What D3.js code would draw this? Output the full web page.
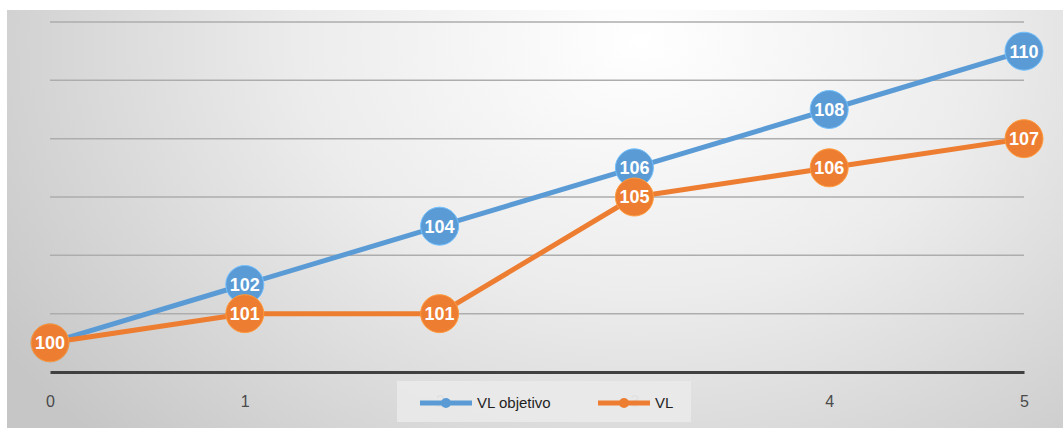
<!DOCTYPE html>
<html>
<head>
<meta charset="utf-8">
<script src="https://cdn.jsdelivr.net/npm/d3@7"></script>
<style>
  html, body { margin: 0; padding: 0; background: #ffffff; }
  svg { display: block; }
</style>
</head>
<body>
<svg id="chart" width="1063" height="432"></svg>
<script>
// Periods along the x axis
const periods = [0, 1, 2, 3, 4, 5];
// Target value ("VL objetivo") and actual value ("VL") per period
const vlObjetivo = [100, 102, 104, 106, 108, 110];
const vl = [100, 101, 101, 105, 106, 107];
// Horizontal gridline values
const gridValues = [101, 103, 105, 107, 109, 111];
const seriesNames = ["VL objetivo", "VL"];

const width = 1063, height = 432;
const svg = d3.select("#chart");

// Background panel with a soft radial shading
const defs = svg.append("defs");
const grad = defs.append("radialGradient")
  .attr("id", "bg")
  .attr("gradientUnits", "userSpaceOnUse")
  .attr("cx", 640).attr("cy", 40).attr("r", 760)
  .attr("gradientTransform", "translate(640,40) scale(1,0.75) translate(-640,-40)");
grad.append("stop").attr("offset", "0%").attr("stop-color", "#ffffff");
grad.append("stop").attr("offset", "45%").attr("stop-color", "#ececec");
grad.append("stop").attr("offset", "100%").attr("stop-color", "#c6c6c6");

svg.append("rect")
  .attr("x", 7).attr("y", 10)
  .attr("width", width - 7).attr("height", 418)
  .attr("fill", "url(#bg)");

const x = d3.scaleLinear().domain([0, 5]).range([50, 1024]);
const y = d3.scaleLinear().domain([99, 111]).range([372, 22]);

// Gridlines
svg.append("g")
  .selectAll("line")
  .data(gridValues)
  .join("line")
  .attr("x1", x(0)).attr("x2", x(5))
  .attr("y1", d => y(d)).attr("y2", d => y(d))
  .attr("stroke", "#adadad")
  .attr("stroke-width", 1.5);

// X axis
const xAxis = d3.axisBottom(x).tickValues(periods).tickFormat(d3.format("d")).tickSize(0).tickPadding(24);
const gx = svg.append("g").attr("transform", `translate(0,${y(99)})`).call(xAxis);
gx.select(".domain").attr("stroke", "#404040").attr("stroke-width", 3);
gx.selectAll("text")
  .attr("fill", "#4a4a4a")
  .attr("font-family", "'Liberation Sans', Arial, sans-serif")
  .attr("font-size", 16);

const colors = ["#5b9bd5", "#ed7d31"];
const series = [vlObjetivo, vl];

const line = d3.line().x((d, i) => x(periods[i])).y(d => y(d));

series.forEach((vals, s) => {
  const g = svg.append("g");
  g.append("path")
    .datum(vals)
    .attr("d", line)
    .attr("fill", "none")
    .attr("stroke", colors[s])
    .attr("stroke-width", 5)
    .attr("stroke-linejoin", "round");
  const pts = g.selectAll("g.pt")
    .data(vals)
    .join("g")
    .attr("class", "pt")
    .attr("transform", (d, i) => `translate(${x(periods[i])},${y(d)})`);
  pts.append("circle")
    .attr("r", 19)
    .attr("fill", colors[s])
    .attr("stroke", d3.color(colors[s]).brighter(0.6))
    .attr("stroke-width", 1);
  pts.append("text")
    .text(d => d)
    .attr("text-anchor", "middle")
    .attr("dy", "0.36em")
    .attr("fill", "#ffffff")
    .attr("font-family", "'Liberation Sans', Arial, sans-serif")
    .attr("font-weight", "bold")
    .attr("font-size", 18);
});

// Legend
const legend = svg.append("g");
legend.append("rect")
  .attr("x", 397).attr("y", 381)
  .attr("width", 294).attr("height", 41)
  .attr("fill", "#e9e9e9")
  .attr("opacity", 0.95);

const legendX = [420, 598];
seriesNames.forEach((name, s) => {
  const lg = legend.append("g").attr("transform", `translate(${legendX[s]},403)`);
  lg.append("line")
    .attr("x1", 0).attr("x2", 52)
    .attr("y1", 0).attr("y2", 0)
    .attr("stroke", colors[s]).attr("stroke-width", 5);
  lg.append("circle")
    .attr("cx", 26).attr("cy", 0).attr("r", 5)
    .attr("fill", colors[s]);
  lg.append("text")
    .attr("x", 57).attr("dy", "0.35em")
    .text(name)
    .attr("fill", "#1f1f1f")
    .attr("font-family", "'Liberation Sans Narrow', 'Liberation Sans', Arial, sans-serif")
    .attr("font-size", 15);
});
</script>
</body>
</html>
